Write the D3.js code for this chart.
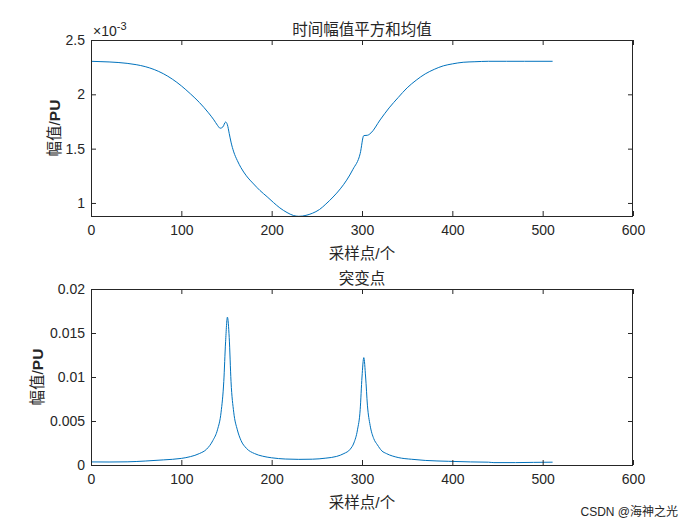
<!DOCTYPE html>
<html><head><meta charset="utf-8">
<script src="https://cdn.jsdelivr.net/npm/d3@7"></script>
<style>
body{margin:0;background:#fff;}
svg{display:block;}
text{font-family:"Liberation Sans",Arial,"Noto Sans CJK SC",sans-serif;fill:#262626;}
</style></head><body>
<svg id="c" width="700" height="525"></svg>
<script>
// ---------- data ----------
const topX = [0,10,20,30,40,50,60,70,80,90,100,110,120,130,136,140,143,146,149,151,153,155,158,162,166,172,180,187,195,202,209,217,224,230,238,245,253,260,268,276,283,290,298,302,306,310,320,330,340,350,360,370,380,390,400,412,425,440,460,480,511];
const topY = [0.002304,0.002301,0.002298,0.002293,0.002285,0.002273,0.002255,0.002228,0.002190,0.002140,0.002078,0.002005,0.001925,0.001830,0.001765,0.001715,0.001688,0.001700,0.001745,0.001720,0.001640,0.001560,0.001470,0.001390,0.001325,0.001250,0.001175,0.001115,0.001057,0.001004,0.000955,0.000912,0.000885,0.000877,0.000886,0.000905,0.000940,0.000990,0.001055,0.001130,0.001210,0.001310,0.001455,0.001620,0.001623,0.001645,0.001764,0.001875,0.001970,0.002060,0.002130,0.002188,0.002230,0.002262,0.002280,0.002295,0.002300,0.002304,0.002304,0.002304,0.002304];

const botX = [0,20,40,60,80,100,110,120,128,135,140,144,147,149,151,153,155,158,162,166,172,181,190,200,215,230,245,260,272,280,287,291,295,298,300,302,304,306,309,313,317,322,327,340,355,370,396,420,440,446,470,490,511];
const botY = [0.00035,0.00034,0.00036,0.00045,0.00058,0.00075,0.00095,0.0013,0.0018,0.0028,0.0040,0.0060,0.0095,0.0140,0.0168,0.0145,0.0095,0.0060,0.0040,0.0028,0.0019,0.0013,0.0010,0.00082,0.00068,0.00064,0.00066,0.00078,0.00098,0.0013,0.0018,0.0025,0.0040,0.0063,0.0100,0.0122,0.0100,0.0068,0.0045,0.0030,0.0023,0.0016,0.0013,0.00085,0.00065,0.00052,0.00042,0.00035,0.00032,0.00027,0.00027,0.00030,0.00032];

const xTicks = [0,100,200,300,400,500,600];
const topYTicks = [0.001,0.0015,0.002,0.0025];
const botYTicks = [0,0.005,0.01,0.015,0.02];

const titleTop = "时间幅值平方和均值";
const titleBot = "突变点";
const xLabel = "采样点/个";
const yLabelA = "幅值/";
const yLabelB = "PU";

// ---------- drawing ----------
const svg = d3.select("#c");
const L = 91, R = 633;
const lineColor = "#0072BD", axColor = "#262626";

function panel(o){
  const x = d3.scaleLinear().domain([0,600]).range([L,R]);
  const y = d3.scaleLinear().domain(o.yDomain).range([o.bottom,o.top]);
  const g = svg.append("g");
  const axB = d3.axisBottom(x).tickValues(xTicks).tickSizeInner(-5).tickSizeOuter(0).tickPadding(10).tickFormat(d3.format("d"));
  const axT = d3.axisTop(x).tickValues(xTicks).tickSizeInner(-5).tickSizeOuter(0).tickFormat("");
  const axL = d3.axisLeft(y).tickValues(o.yTicks).tickSizeInner(-5).tickSizeOuter(0).tickPadding(10).tickFormat(o.fmt);
  const axR = d3.axisRight(y).tickValues(o.yTicks).tickSizeInner(-5).tickSizeOuter(0).tickFormat("");
  const cid = "clip"+o.top;
  svg.append("clipPath").attr("id",cid).append("rect").attr("x",L).attr("y",o.top).attr("width",R-L).attr("height",o.bottom-o.top);
  g.append("path").datum(o.xs.map((v,i)=>[v,o.ys[i]]))
    .attr("clip-path","url(#"+cid+")")
    .attr("fill","none").attr("stroke",lineColor).attr("stroke-width",1)
    .attr("d",d3.line().x(d=>x(d[0])).y(d=>y(d[1])).curve(d3.curveMonotoneX));
  const gb = g.append("g").attr("transform",`translate(0,${o.bottom})`).call(axB);
  const gt = g.append("g").attr("transform",`translate(0,${o.top})`).call(axT);
  const gl = g.append("g").attr("transform",`translate(${L},0)`).call(axL);
  const gr = g.append("g").attr("transform",`translate(${R},0)`).call(axR);
  [gb,gt,gl,gr].forEach(a=>{
    a.select(".domain").remove();
    a.selectAll("line").attr("stroke",axColor);
    a.selectAll("text").attr("font-size",14).attr("fill",axColor)
     .attr("font-family","'Liberation Sans',Arial,sans-serif");
  });
  gl.selectAll("text").attr("x",-6);
  gb.selectAll("text").attr("dy","0.71em").attr("y",9);
  g.append("rect").attr("x",L+0.5).attr("y",o.top+0.5).attr("width",R-L-1).attr("height",o.bottom-o.top)
    .attr("fill","none").attr("stroke",axColor).attr("stroke-width",1);
  g.append("text").attr("x",(L+R)/2).attr("y",o.top-5).attr("text-anchor","middle")
    .attr("font-size",15.5).attr("font-family","'Noto Sans CJK SC',sans-serif").text(o.title);
  g.append("text").attr("x",(L+R)/2).attr("y",o.bottom+43).attr("text-anchor","middle")
    .attr("font-size",15.5).attr("font-family","'Noto Sans CJK SC',sans-serif").attr("fill","#404040").text(xLabel);
  const yl = g.append("text").attr("transform",`translate(${o.ylx},${(o.top+o.bottom)/2}) rotate(-90)`)
    .attr("text-anchor","middle").attr("font-size",15.5).attr("font-family","'Noto Sans CJK SC',sans-serif");
  yl.append("tspan").text(yLabelA);
  yl.append("tspan").attr("font-weight","bold").attr("font-family","'Liberation Sans',Arial,sans-serif").text(yLabelB);
  return g;
}

const g1 = panel({top:40,bottom:216,yDomain:[0.00088,0.0025],yTicks:topYTicks,fmt:d=>String(+(d*1000).toFixed(1)),
  xs:topX,ys:topY,title:titleTop,ylx:60});
const ex = g1.append("text").attr("x",93).attr("y",36).attr("font-size",14).attr("fill",axColor);
ex.append("tspan").text("×10");
ex.append("tspan").attr("dy",-6).attr("font-size",11).text("-3");

panel({top:289,bottom:465,yDomain:[0,0.02],yTicks:botYTicks,fmt:d=>String(d),
  xs:botX,ys:botY,title:titleBot,ylx:43});

svg.append("text").attr("x",678).attr("y",516).attr("text-anchor","end").attr("font-size",12)
  .attr("font-family","'Noto Sans CJK SC',sans-serif").attr("fill","#b8b8b8").text("CSDN @海神之光");
</script>
</body></html>
